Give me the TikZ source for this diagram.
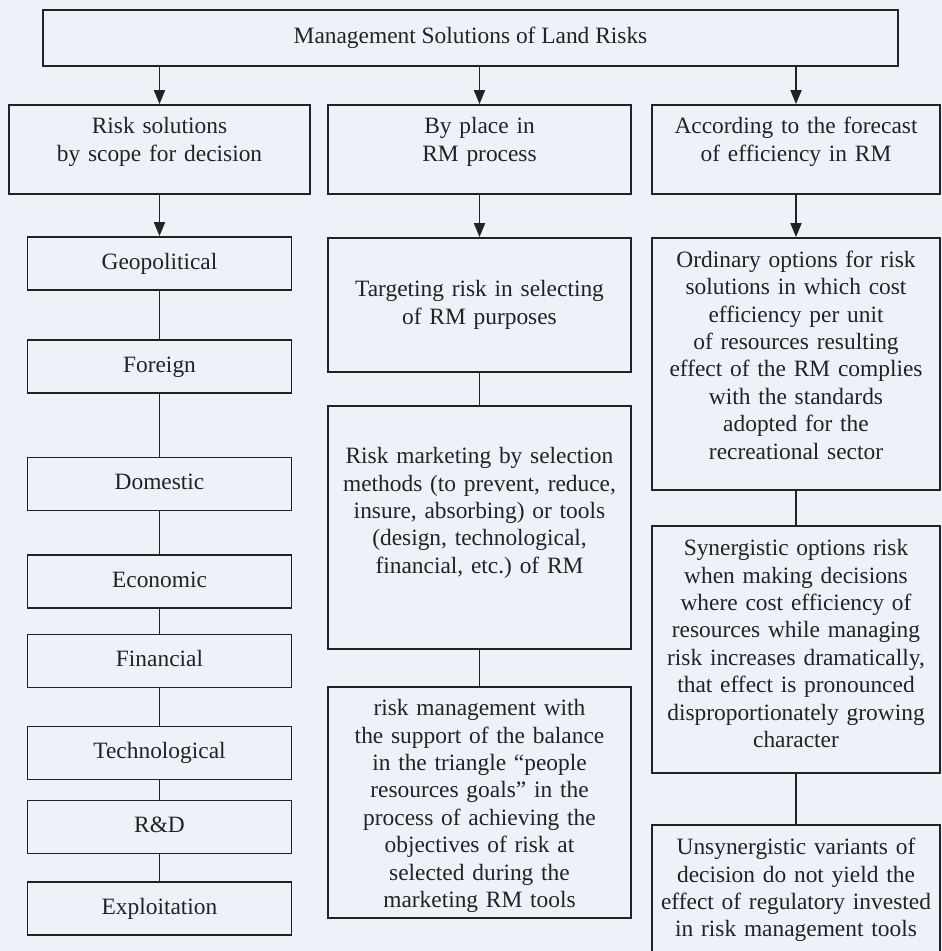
\documentclass[tikz,border=0pt]{standalone}
\usepackage{fontspec}
\setmainfont{Liberation Serif}
\usetikzlibrary{arrows.meta}
\definecolor{paper}{RGB}{238,241,248}
\definecolor{ink}{RGB}{34,34,34}
\tikzstyle{box} = [rectangle, draw=ink, line width=1.8pt, fill=paper,
  text=ink, align=center, inner xsep=3pt, inner ysep=2pt,
  font=\fontsize{23.4pt}{27.4pt}\selectfont]
\tikzstyle{mainbox} = [box, minimum width=855pt, minimum height=56pt,
  text height=16pt, text depth=5pt]
\tikzstyle{headbox} = [box, minimum height=89pt, text depth=48pt]
\tikzstyle{scopebox} = [box, minimum width=264pt, minimum height=53pt,
  text height=16pt, text depth=5pt]
\tikzstyle{placebox} = [box, text width=297pt]
\tikzstyle{effbox} = [box, text width=282pt]
\tikzstyle{arrow} = [draw=ink, line width=1.8pt,
  -{Triangle[length=14pt, width=11pt]}]
\tikzstyle{link} = [draw=ink, line width=1.8pt]

\begin{document}
\begin{tikzpicture}
  \path[use as bounding box, fill=paper] (0,0) rectangle (942pt,-951pt);

  \node (title) [mainbox] at (470.5pt,-38pt)
    {Management Solutions of Land Risks};
  \node (place) [headbox, text width=297pt, node distance=111.5pt,
    below of=title, xshift=9pt] {By place in\\RM process};
  \node (scope) [headbox, text width=295pt, node distance=320pt,
    left of=place] {Risk solutions\\by scope for decision};
  \node (effic) [headbox, text width=282pt, node distance=316.5pt,
    right of=place] {According to the forecast\\of efficiency in RM};

  % scope column
  \node (geo) [scopebox, node distance=114pt, below of=scope] {Geopolitical};
  \node (foreign) [scopebox, node distance=103pt, below of=geo] {Foreign};
  \node (domestic) [scopebox, node distance=117.5pt, below of=foreign]
    {Domestic};
  \node (economic) [scopebox, node distance=97.5pt, below of=domestic]
    {Economic};
  \node (financial) [scopebox, node distance=79.5pt, below of=economic]
    {Financial};
  \node (techno) [scopebox, node distance=92pt, below of=financial]
    {Technological};
  \node (rnd) [scopebox, node distance=74pt, below of=techno] {R\&D};
  \node (exploit) [scopebox, node distance=81.5pt, below of=rnd]
    {Exploitation};

  % place column
  \node (target) [placebox, minimum height=134pt, node distance=155.5pt,
    below of=place] {Targeting risk in selecting\\of RM purposes};
  \node (marketing) [placebox, minimum height=243pt, text depth=144pt,
    node distance=222.5pt, below of=target]
    {Risk marketing by selection\\
     methods (to prevent, reduce,\\
     insure, absorbing) or tools\\
     (design, technological,\\
     financial, etc.)\ of RM};
  \node (balance) [placebox, minimum height=231pt, text depth=190pt,
    node distance=275pt, below of=marketing]
    {risk management with\\
     the support of the balance\\
     in the triangle “people\\
     resources goals” in the\\
     process of achieving the\\
     objectives of risk at\\
     selected during the\\
     marketing RM tools};

  % efficiency column
  \node (ordinary) [effbox, minimum height=252pt, text depth=210pt,
    node distance=214.5pt, below of=effic]
    {Ordinary options for risk\\
     solutions in which cost\\
     efficiency per unit\\
     of resources resulting\\
     effect of the RM complies\\
     with the standards\\
     adopted for the\\
     recreational sector};
  \node (synergy) [effbox, minimum height=247pt, text depth=204pt,
    node distance=285.5pt, below of=ordinary]
    {Synergistic options risk\\
     when making decisions\\
     where cost efficiency of\\
     resources while managing\\
     risk increases dramatically,\\
     that effect is pronounced\\
     disproportionately growing\\
     character};
  \node (unsyn) [effbox, minimum height=180pt, text depth=137pt,
    node distance=265.5pt, below of=synergy]
    {Unsynergistic variants of\\
     decision do not yield the\\
     effect of regulatory invested\\
     in risk management tools};

  \draw [arrow] (title.south -| scope.north) -- (scope.north);
  \draw [arrow] (title.south -| place.north) -- (place.north);
  \draw [arrow] (title.south -| effic.north) -- (effic.north);
  \draw [arrow] (scope.south) -- (geo.north);
  \draw [arrow] (place.south) -- (target.north);
  \draw [arrow] (effic.south) -- (ordinary.north);

  \draw [link] (geo) -- (foreign);
  \draw [link] (foreign) -- (domestic);
  \draw [link] (domestic) -- (economic);
  \draw [link] (economic) -- (financial);
  \draw [link] (financial) -- (techno);
  \draw [link] (techno) -- (rnd);
  \draw [link] (rnd) -- (exploit);
  \draw [link] (target) -- (marketing);
  \draw [link] (marketing) -- (balance);
  \draw [link] (ordinary) -- (synergy);
  \draw [link] (synergy) -- (unsyn);
\end{tikzpicture}
\end{document}
